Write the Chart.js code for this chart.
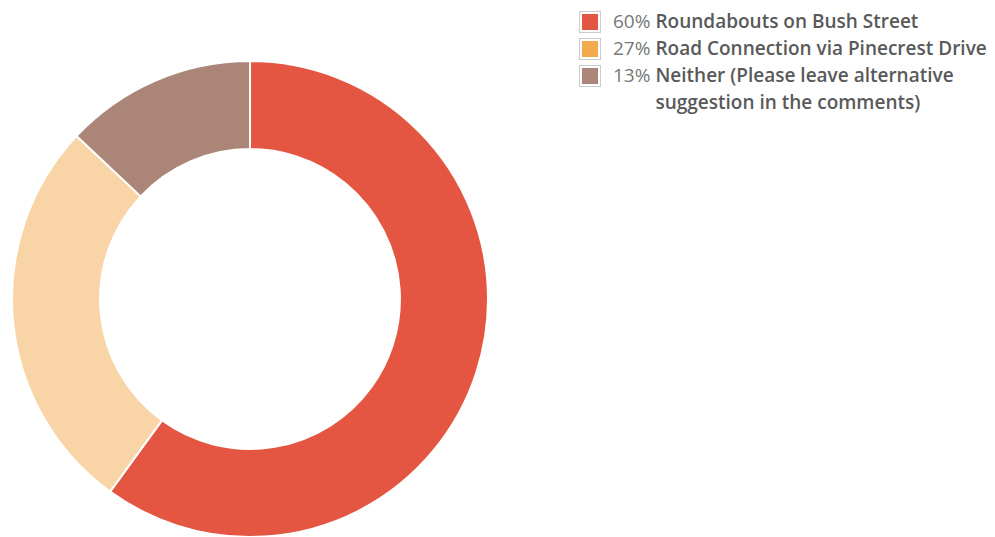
<!DOCTYPE html>
<html>
<head>
<meta charset="utf-8">
<script src="https://cdn.jsdelivr.net/npm/chart.js@4"></script>
<style>
  body { margin: 0; background: #fff; width: 995px; height: 537px; overflow: hidden; position: relative; font-family: "Open Sans", sans-serif; }
  #wrap { position: absolute; left: 11px; top: 60px; width: 478px; height: 478px; }
  #legend { position: absolute; left: 579px; top: 9px; }
  .item { position: relative; height: 27px; font-size: 19px; line-height: 25px; color: #555; }
  .item .box { position: absolute; left: 0; top: 2px; width: 22px; height: 22px; border: 1px solid #ccc; box-sizing: border-box; background: #fff; }
  .item .box span { position: absolute; left: 2px; top: 2px; width: 16px; height: 16px; }
  .item .txt { position: absolute; left: 34px; top: 0; white-space: nowrap; display: flex; }
  .item .pct { color: #777; font-weight: 400; margin-right: 5px; }
  .item .lbl { font-weight: 600; color: #595959; }
</style>
</head>
<body>
<div id="wrap"><canvas id="myChart"></canvas></div>
<div id="legend"></div>
<script>
// survey options and share of answers (%)
const labels = ['Roundabouts on Bush Street', 'Road Connection via Pinecrest Drive', 'Neither (Please leave alternative suggestion in the comments)'];
const values = [60, 27, 13];
const sliceColors = ['#e45641', '#f8d4a6', '#ab8577'];
const legendColors = ['#e45641', '#f2aa4c', '#ab8577'];

const ctx = document.getElementById('myChart');

const chart = new Chart(ctx, {
    type: 'doughnut',
    data: {
        labels: labels,
        datasets: [{
            data: values,
            backgroundColor: sliceColors,
            borderColor: '#ffffff',
            borderWidth: 2
        }]
    },
    options: {
        responsive: true,
        maintainAspectRatio: false,
        animation: false,
        cutout: '63%',
        plugins: {
            legend: { display: false },
            tooltip: { enabled: false }
        }
    }
});

// html legend, the long label wraps under the label text
const legend = document.getElementById('legend');
labels.forEach((l, i) => {
    const item = document.createElement('div');
    item.className = 'item';
    const box = document.createElement('div');
    box.className = 'box';
    const sw = document.createElement('span');
    sw.style.background = legendColors[i];
    box.appendChild(sw);
    item.appendChild(box);

    const txt = document.createElement('div');
    txt.className = 'txt';
    let lbl = l;
    if (i === 2) {
        lbl = 'Neither (Please leave alternative<br>suggestion in the comments)';
        txt.style.lineHeight = '27px';
        txt.style.top = '-1px';
    }
    txt.innerHTML = '<span class="pct">' + values[i] + '%</span><span class="lbl">' + lbl + '</span>';
    item.appendChild(txt);
    legend.appendChild(item);
});
</script>
</body>
</html>
